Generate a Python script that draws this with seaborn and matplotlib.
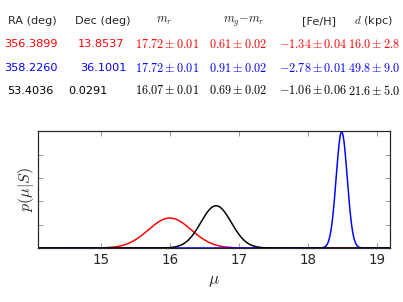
import numpy as np
import pandas as pd
import matplotlib
matplotlib.use("Agg")
import matplotlib.pyplot as plt
import seaborn as sns

# -----------------------------
# Table values (one row per object)
# -----------------------------
ra = ["356.3899", "358.2260", "53.4036"]
dec = ["13.8537", "36.1001", "0.0291"]
m_r = ["17.72", "17.72", "16.07"]
m_r_err = ["0.01", "0.01", "0.01"]
g_r = ["0.61", "0.91", "0.69"]
g_r_err = ["0.02", "0.02", "0.02"]
feh = ["-1.34", "-2.78", "-1.06"]
feh_err = ["0.04", "0.01", "0.06"]
dist = ["16.0", "49.8", "21.6"]
dist_err = ["2.8", "9.0", "5.0"]
colors = ["red", "blue", "black"]

# distance modulus posteriors (centre, width)
mu_centre = [16.0, 18.49, 16.67]
mu_sigma = [0.31, 0.08, 0.22]

sns.set_style("ticks")
plt.rcParams["mathtext.fontset"] = "cm"
plt.rcParams["font.family"] = ["DejaVu Sans"]
plt.rcParams["xtick.direction"] = "in"
plt.rcParams["ytick.direction"] = "in"

W, H = 403, 302
fig = plt.figure(figsize=(W / 72, H / 72), dpi=72)

def put(x, y, s, **kw):
    fig.text(x / W, 1 - y / H, s, ha="left", va="center", **kw)

SANS = 11.2
MATH = 12.2

# -----------------------------
# Header
# -----------------------------
put(8, 21, "RA (deg)", fontsize=SANS)
put(75, 21, "Dec (deg)", fontsize=SANS)
put(156, 21, r"$m_r$", fontsize=MATH)
put(223, 21, r"$m_g{-}m_r$", fontsize=MATH)
put(302, 21, "[Fe/H]", fontsize=SANS)
put(354, 21, r"$d$ (kpc)", fontsize=SANS)

row_y = [44, 68, 91]
ra_x = [4, 4, 7]
dec_x = [78, 80, 68]
for i in range(3):
    c = colors[i]
    y = row_y[i]
    put(ra_x[i], y, ra[i], fontsize=SANS, color=c)
    put(dec_x[i], y, dec[i], fontsize=SANS, color=c)
    put(135, y, r"$%s\pm%s$" % (m_r[i], m_r_err[i]), fontsize=MATH, color=c)
    put(209, y, r"$%s\pm%s$" % (g_r[i], g_r_err[i]), fontsize=MATH, color=c)
    put(279, y, r"$%s\pm%s$" % (feh[i], feh_err[i]), fontsize=MATH, color=c)
    put(348, y, r"$%s\pm%s$" % (dist[i], dist_err[i]), fontsize=MATH, color=c)

# -----------------------------
# Posterior curves
# -----------------------------
ax = fig.add_axes([38 / W, 1 - 248 / H, (390 - 38) / W, (248 - 131) / H])
grid = np.linspace(14.0, 19.3, 800)
for c, m, s in zip(colors, mu_centre, mu_sigma):
    p = np.exp(-0.5 * ((grid - m) / s) ** 2) / (s * np.sqrt(2 * np.pi))
    df = pd.DataFrame({"mu": grid, "p": p})
    sns.lineplot(data=df, x="mu", y="p", color=c, lw=1.5, ax=ax)

ax.set_xlim(14.09, 19.19)
ax.set_ylim(0, 5.02)
ax.set_xticks([15, 16, 17, 18, 19])
ax.set_yticks([0, 1, 2, 3, 4, 5])
ax.set_yticklabels([])
ax.tick_params(top=True, right=True, labelsize=13.5, length=5, width=0.8,
               color="0.5", pad=5)
for sp in ax.spines.values():
    sp.set_linewidth(1.2)
ax.set_xlabel(r"$\mu$", fontsize=17, labelpad=4)
ax.set_ylabel(r"$p(\mu|S)$", fontsize=16, labelpad=-3)

fig.savefig("out.png", dpi=72)
